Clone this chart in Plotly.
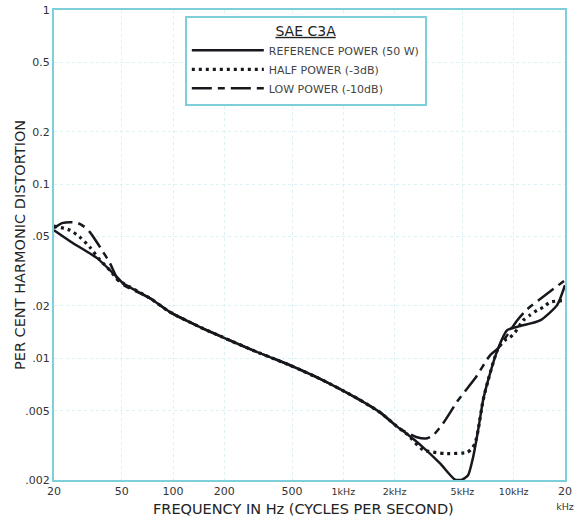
import plotly.graph_objects as go

# Frequency (Hz) and distortion (%)
ref_f = [20, 25.9, 35.8, 46.9, 50.8, 73.3, 96, 144, 196, 295, 486, 760, 1203, 1642,
         2066, 2364, 2937, 3696, 4526, 4977, 5396, 5774, 6178, 6608, 7070, 8096,
         9142, 10898, 14284, 17972, 20000]
ref_v = [0.0544, 0.0458, 0.0376, 0.0292, 0.0270, 0.0221, 0.0184, 0.0151, 0.0132,
         0.0111, 0.00912, 0.00747, 0.00589, 0.00489, 0.00405, 0.00367, 0.00308,
         0.00249, 0.00201, 0.00201, 0.00213, 0.0027, 0.00386, 0.00574, 0.00747,
         0.0114, 0.0145, 0.0153, 0.0165, 0.0202, 0.0263]

half_f = [20, 24.8, 28.4, 32.5, 37.3, 42.6, 47.5, 50.8, 73.3, 96, 144, 196, 295, 486,
          760, 1203, 1642, 2066, 2364, 2937, 3954, 5324, 5696, 5932, 6178, 6608,
          7070, 8096, 8898, 9520, 10186, 11350, 12474, 13716, 14876, 16354, 20000]
half_v = [0.0574, 0.0544, 0.0496, 0.0434, 0.0366, 0.0320, 0.0281, 0.0270, 0.0221,
          0.0184, 0.0151, 0.0132, 0.0111, 0.00912, 0.00747, 0.00589, 0.00489,
          0.00405, 0.00367, 0.00298, 0.00284, 0.00288, 0.00304, 0.00325, 0.00386,
          0.00574, 0.00747, 0.0114, 0.0127, 0.0132, 0.0141, 0.0165, 0.0177, 0.0189,
          0.0196, 0.0210, 0.0215]

low_f = [20, 22.3, 24.8, 27.7, 30.4, 32.5, 37.3, 42.6, 48.8, 73.3, 96, 144, 196, 295,
         486, 760, 1203, 1642, 2066, 2241, 2708, 3100, 3362, 3849, 4714, 5932, 7264,
         8096, 10465, 11984, 15282, 20000]
low_v = [0.0559, 0.0597, 0.0605, 0.0597, 0.0566, 0.0530, 0.0434, 0.0352, 0.0272,
         0.0221, 0.0184, 0.0151, 0.0132, 0.0111, 0.00912, 0.00747, 0.00589, 0.00489,
         0.00405, 0.00385, 0.00352, 0.00347, 0.00361, 0.00423, 0.00574, 0.00767,
         0.0104, 0.0114, 0.0165, 0.0191, 0.0230, 0.0281]

x_tickvals = [20, 50, 100, 200, 500, 1000, 2000, 5000, 10000, 20000]
x_ticktext = ["20", "50", "100", "200", "500",
              "<span style='font-size:9.5px'>1kHz</span>",
              "<span style='font-size:9.5px'>2kHz</span>",
              "<span style='font-size:9.5px'>5kHz</span>",
              "<span style='font-size:9.5px'>10kHz</span>",
              "20<br><span style='font-size:9.5px'>kHz</span>"]
y_tickvals = [0.002, 0.005, 0.01, 0.02, 0.05, 0.1, 0.2, 0.5, 1]
y_ticktext = [".002", ".005", ".01", ".02", ".05", "0.1", "0.2", "0.5", "1"]

series_names = ["REFERENCE POWER (50 W)", "HALF POWER (-3dB)", "LOW POWER (-10dB)"]

ink = "#16181d"
cyan = "#7dcfd9"
grid = "#dcf1f4"

fig = go.Figure()
fig.add_trace(go.Scatter(x=ref_f, y=ref_v, mode="lines", name=series_names[0],
                         line=dict(color=ink, width=2.5, shape="spline", smoothing=0.6)))
fig.add_trace(go.Scatter(x=half_f, y=half_v, mode="lines", name=series_names[1],
                         line=dict(color=ink, width=3.2, dash="3px,4px", shape="spline", smoothing=0.6)))
fig.add_trace(go.Scatter(x=low_f, y=low_v, mode="lines", name=series_names[2],
                         line=dict(color=ink, width=2.5, dash="20px,6px,7px,6px", shape="spline", smoothing=0.6)))

fig.update_layout(
    width=577, height=517,
    margin=dict(l=54, r=12, t=10, b=37, autoexpand=False),
    paper_bgcolor="white", plot_bgcolor="white",
    font=dict(family="DejaVu Sans", color="#333333"),
    showlegend=True,
    legend=dict(
        x=0.256, y=0.988, xanchor="left", yanchor="top",
        bgcolor="white", bordercolor=cyan, borderwidth=2,
        font=dict(size=11, color="#444444"),
        title=dict(text="<u>SAE C3A</u>", side="top center",
                   font=dict(size=14, color="#222222")),
        itemwidth=72, tracegroupgap=0,
    ),
    xaxis=dict(
        type="log", range=[1.30103, 4.30103], automargin=False,
        tickvals=x_tickvals, ticktext=x_ticktext,
        tickfont=dict(size=11, color="#333333"),
        showgrid=True, gridcolor=grid, griddash="dot", gridwidth=1,
        showline=True, linecolor=cyan, linewidth=2, mirror=True,
        ticks="", zeroline=False,
    ),
    yaxis=dict(
        type="log", range=[-2.69897, 0], automargin=False,
        tickvals=y_tickvals, ticktext=y_ticktext,
        tickfont=dict(size=11, color="#333333"),
        showgrid=True, gridcolor=grid, griddash="dot", gridwidth=1,
        showline=True, linecolor=cyan, linewidth=2, mirror=True,
        ticks="", zeroline=False,
    ),
    annotations=[
        dict(text="FREQUENCY IN Hz (CYCLES PER SECOND)", xref="paper", yref="paper",
             x=0.489, y=-0.062, xanchor="center", yanchor="middle", showarrow=False,
             font=dict(size=14.5, color="#222222")),
        dict(text="PER CENT HARMONIC DISTORTION", xref="paper", yref="paper",
             x=-0.0665, y=0.5, xanchor="center", yanchor="middle", showarrow=False,
             textangle=-90, font=dict(size=14.5, color="#222222")),
    ],
)

fig.write_html("out.html")
